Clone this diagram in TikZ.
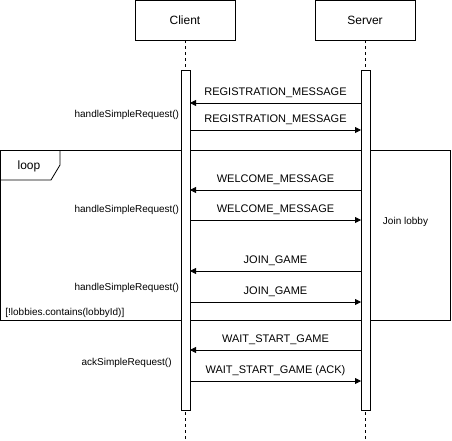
\documentclass[tikz,border=0pt]{standalone}
\usepackage{fontspec}
\setmainfont{Liberation Sans}
\usetikzlibrary{arrows.meta}
\begin{document}
\begin{tikzpicture}[x=1pt,y=-1pt,line width=0.8pt,
  part/.style={draw,fill=white,minimum width=100pt,minimum height=40pt,inner sep=0pt,font=\fontsize{12}{14}\selectfont},
  actbar/.style={draw,fill=white,minimum width=9pt,minimum height=340pt,inner sep=0pt},
  life/.style={dash pattern=on 3pt off 3pt,line width=0.6pt},
  msg/.style={-{Triangle[length=6pt,width=6pt]}},
  mlab/.style={font=\fontsize{11}{13}\selectfont,inner sep=0pt,anchor=base},
  note/.style={font=\fontsize{10}{12}\selectfont,inner sep=0pt}]
\useasboundingbox (0,0) rectangle (452,441);
\node[part] (client) at (185,20) {Client};
\node[part] (server) at (365,20) {Server};
\coordinate (cend) at (185,441);
\coordinate (send) at (365,441);
\draw[life] (client.south) -- (cend);
\draw[life] (server.south) -- (send);
% loop frame
\draw (0.5,150) rectangle (450,320);
\draw (0.5,180) -- (51,180) -- (60,165) -- (60,150);
\node[font=\fontsize{12}{14}\selectfont,inner sep=0pt] (looplbl) at (29,166) {loop};
\node[actbar] (ca) at (185.5,240) {};
\node[actbar] (sa) at (365.5,240) {};
% messages
\coordinate (s1) at (sa.east|-0,103); \coordinate (c1) at (ca.east|-0,103);
\coordinate (s1) at (361,103); \coordinate (c1) at (190,103);
\draw[msg] (s1) -- (c1) node[mlab,midway,above=5pt] {REGISTRATION\_MESSAGE};
\coordinate (c2) at (190,130); \coordinate (s2) at (361,130);
\draw[msg] (c2) -- (s2) node[mlab,midway,above=5pt] {REGISTRATION\_MESSAGE};
\node[note,anchor=east] (h1) at (179.5,115) {handleSimpleRequest()};
\coordinate (s3) at (361,190); \coordinate (c3) at (190,190);
\draw[msg] (s3) -- (c3) node[mlab,midway,above=5pt] {WELCOME\_MESSAGE};
\coordinate (c4) at (190,220); \coordinate (s4) at (361,220);
\draw[msg] (c4) -- (s4) node[mlab,midway,above=5pt] {WELCOME\_MESSAGE};
\node[note,anchor=east] (h2) at (179.5,210) {handleSimpleRequest()};
\node[note] (join) at (405.5,222) {Join lobby};
\coordinate (s5) at (361,271); \coordinate (c5) at (190,271);
\draw[msg] (s5) -- (c5) node[mlab,midway,above=5pt] {JOIN\_GAME};
\coordinate (c6) at (190,302); \coordinate (s6) at (361,302);
\draw[msg] (c6) -- (s6) node[mlab,midway,above=5pt] {JOIN\_GAME};
\node[note,anchor=east] (h3) at (179.5,288) {handleSimpleRequest()};
\node[note,anchor=west] (guard) at (5,313) {[!lobbies.contains(lobbyId)]};
\coordinate (s7) at (361,350); \coordinate (c7) at (190,350);
\draw[msg] (s7) -- (c7) node[mlab,midway,above=5pt] {WAIT\_START\_GAME};
\coordinate (c8) at (190,381); \coordinate (s8) at (361,381);
\draw[msg] (c8) -- (s8) node[mlab,midway,above=5pt] {WAIT\_START\_GAME (ACK)};
\node[note,anchor=east] (ack) at (172,363) {ackSimpleRequest()};
\end{tikzpicture}
\end{document}
